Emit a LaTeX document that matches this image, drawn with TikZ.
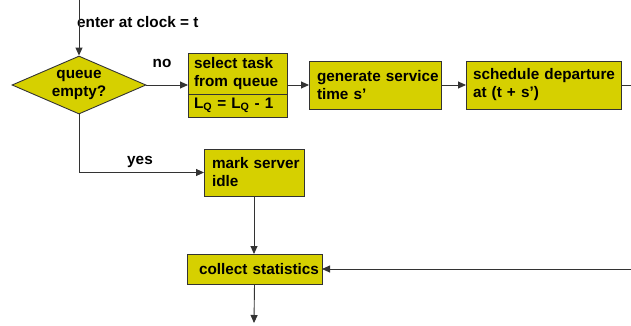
\documentclass[tikz,border=0pt]{standalone}
\usepackage{fontspec}
\setmainfont{Liberation Sans}
\usetikzlibrary{arrows.meta,shapes.geometric,positioning,calc}
\definecolor{qy}{RGB}{214,208,0}
\definecolor{edge}{RGB}{51,51,51}
\begin{document}
\begin{tikzpicture}[x=1pt,y=-1pt,
  font=\fontsize{15.3}{18}\selectfont\bfseries,
  box/.style={draw=edge,fill=qy,line width=0.9pt,inner sep=0pt,outer sep=0pt,anchor=north west,align=left},
  lbl/.style={inner sep=0pt},
  conn/.style={draw=edge,line width=0.9pt},
  arr/.style={conn,-{Triangle[length=8pt,width=7pt]}}]
\useasboundingbox (0,0) rectangle (631,325);
% diamond
\node[draw=edge,fill=qy,line width=0.9pt,shape=diamond,aspect=2.3,inner sep=0pt,
  minimum width=134pt,minimum height=58pt,align=center] (dia) at (79,85) {queue\\empty?};
% boxes
\node[box,minimum width=99pt,minimum height=41pt,text width=87pt] (sel) at (188,53) {\mbox{select task}\\\mbox{from queue}};
\node[box,minimum width=99pt,minimum height=23pt,text width=87pt] (selb) at (188,94) {\mbox{L\textsubscript{Q} = L\textsubscript{Q} - 1}};
\node[box,minimum width=132pt,minimum height=48pt,text width=116pt] (gen) at (309,61) {\mbox{generate service}\\\mbox{time s’}};
\node[box,minimum width=155pt,minimum height=48pt,text width=141pt] (sch) at (466,61) {\mbox{schedule departure}\\\mbox{at (t + s’)}};
\node[box,minimum width=100pt,minimum height=47pt,text width=84pt] (mark) at (204,149) {\mbox{mark server}\\\mbox{idle}};
\node[box,minimum width=135pt,minimum height=30pt,text width=129pt,align=right] (coll) at (187,254) {\mbox{collect statistics}};
% labels
\node[lbl,anchor=west] (enter) at (77,22) {enter at clock = t};
\node[lbl] (no) at (162,63) {no};
\node[lbl] (yes) at (140,162) {yes};
% free ends
\coordinate (top) at (79,0);
\coordinate (outR) at (631,85);
\coordinate (inR) at (631,269);
\coordinate (bot) at (254,323);
% connectors
\draw[arr] (top) -- (dia.north);
\draw[arr] (dia.east) -- (dia.east -| sel.west);
\draw[arr] (sel.east |- gen.west) -- (gen.west);
\draw[arr] (gen.east) -- (sch.west);
\draw[conn] (sch.east) -- (outR);
\draw[arr] (dia.south) -- (dia.south |- mark.west) -- (mark.west);
\draw[arr] (mark.south) -- (mark.south |- coll.north);
\draw[arr] (inR) -- (coll.east);
\draw[arr] (coll.south) -- (bot);
\end{tikzpicture}
\end{document}
